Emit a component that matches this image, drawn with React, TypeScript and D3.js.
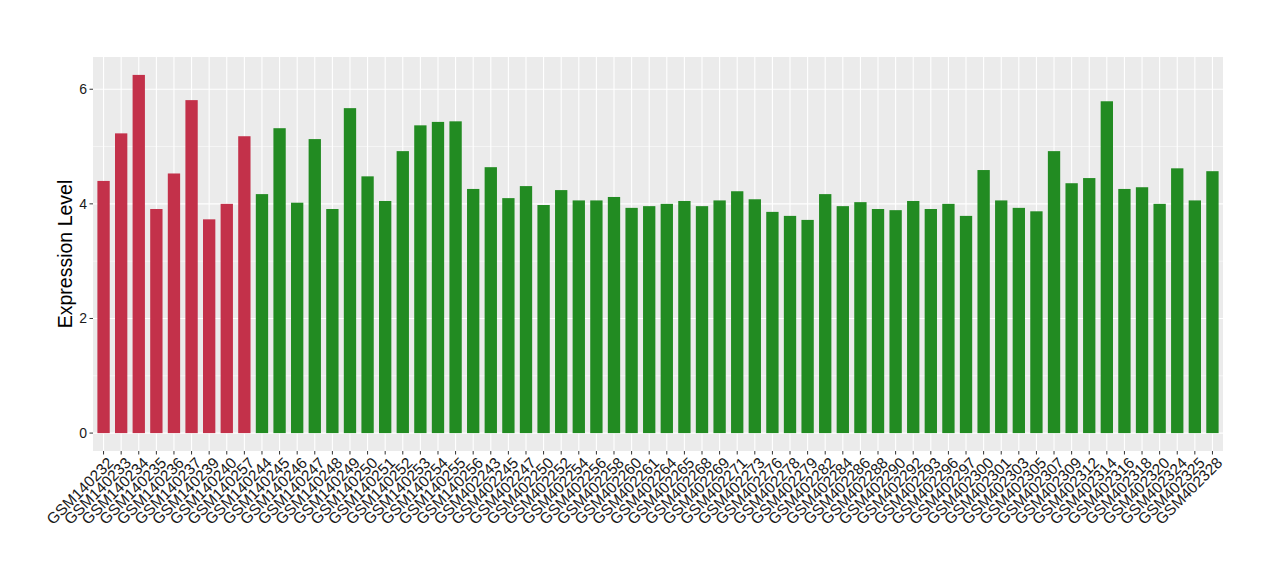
import React, { useEffect, useRef } from "react";
import * as d3 from "d3";

// sample ids, in plotting order
const samples = [
  "GSM140232", "GSM140233", "GSM140234", "GSM140235", "GSM140236", "GSM140237",
  "GSM140239", "GSM140240", "GSM140257", "GSM140244", "GSM140245", "GSM140246",
  "GSM140247", "GSM140248", "GSM140249", "GSM140250", "GSM140251", "GSM140252",
  "GSM140253", "GSM140254", "GSM140255", "GSM140256", "GSM402243", "GSM402245",
  "GSM402247", "GSM402250", "GSM402252", "GSM402254", "GSM402256", "GSM402258",
  "GSM402260", "GSM402261", "GSM402264", "GSM402265", "GSM402268", "GSM402269",
  "GSM402271", "GSM402273", "GSM402276", "GSM402278", "GSM402279", "GSM402282",
  "GSM402284", "GSM402286", "GSM402288", "GSM402290", "GSM402292", "GSM402293",
  "GSM402296", "GSM402297", "GSM402300", "GSM402301", "GSM402303", "GSM402305",
  "GSM402307", "GSM402309", "GSM402312", "GSM402314", "GSM402316", "GSM402318",
  "GSM402320", "GSM402324", "GSM402325", "GSM402328",
];

const expression = [
  4.40, 5.23, 6.25, 3.91, 4.53, 5.81, 3.73, 4.00, 5.18, 4.17, 5.32, 4.02,
  5.13, 3.91, 5.67, 4.48, 4.05, 4.92, 5.37, 5.43, 5.44, 4.26, 4.64, 4.10,
  4.31, 3.98, 4.24, 4.06, 4.06, 4.12, 3.93, 3.96, 4.00, 4.05, 3.96, 4.06,
  4.22, 4.08, 3.86, 3.79, 3.72, 4.17, 3.96, 4.03, 3.91, 3.89, 4.05, 3.91,
  4.00, 3.79, 4.59, 4.06, 3.93, 3.87, 4.92, 4.36, 4.45, 5.79, 4.26, 4.29,
  4.00, 4.62, 4.06, 4.57,
];

// first 9 samples are one group (red), rest the other (green)
const groupSize = 9;
const yTicks = [0, 2, 4, 6];
const yMinor = [1, 3, 5];

const WIDTH = 1280;
const HEIGHT = 580;
const FONT = "'Liberation Sans', Arial, Helvetica, sans-serif";

const App: React.FC = () => {
  const svgRef = useRef<SVGSVGElement | null>(null);

  useEffect(() => {
    if (!svgRef.current) return;
    const root = d3.select(svgRef.current);
    root.selectAll("*").remove();

    const margin = { top: 57, right: 57, bottom: 129, left: 93 };
    const plotW = WIDTH - margin.left - margin.right;
    const plotH = HEIGHT - margin.top - margin.bottom;

    // ggplot-style discrete expansion (0.6 of a step on each side)
    const xScale = d3
      .scaleBand<string>()
      .domain(samples)
      .range([0, plotW])
      .paddingInner(0.3)
      .paddingOuter(0.25);
    const xc = (s: string) => xScale(s)! + xScale.bandwidth() / 2;

    const maxV = d3.max(expression)!;
    const pad = maxV * 0.05;
    const yScale = d3.scaleLinear().domain([-pad, maxV + pad]).range([plotH, 0]);

    const g = root
      .append("g")
      .attr("transform", `translate(${margin.left},${margin.top})`);

    g.append("rect")
      .attr("width", plotW)
      .attr("height", plotH)
      .attr("fill", "#EBEBEB");

    // minor grid
    g.selectAll(".minor")
      .data(yMinor)
      .enter()
      .append("line")
      .attr("x1", 0)
      .attr("x2", plotW)
      .attr("y1", (d) => yScale(d))
      .attr("y2", (d) => yScale(d))
      .attr("stroke", "#FFFFFF")
      .attr("stroke-width", 0.55);

    // major grid
    g.selectAll(".major")
      .data(yTicks)
      .enter()
      .append("line")
      .attr("x1", 0)
      .attr("x2", plotW)
      .attr("y1", (d) => yScale(d))
      .attr("y2", (d) => yScale(d))
      .attr("stroke", "#FFFFFF")
      .attr("stroke-width", 1.1);

    g.selectAll(".vgrid")
      .data(samples)
      .enter()
      .append("line")
      .attr("x1", (d) => xc(d))
      .attr("x2", (d) => xc(d))
      .attr("y1", 0)
      .attr("y2", plotH)
      .attr("stroke", "#FFFFFF")
      .attr("stroke-width", 1.1);

    // bars
    g.selectAll(".bar")
      .data(samples)
      .enter()
      .append("rect")
      .attr("x", (d) => xScale(d)!)
      .attr("width", xScale.bandwidth())
      .attr("y", (_, i) => yScale(expression[i]))
      .attr("height", (_, i) => yScale(0) - yScale(expression[i]))
      .attr("fill", (_, i) => (i < groupSize ? "#C3314A" : "#228B22"));

    // y axis ticks + labels
    const yAxis = g.append("g");
    yTicks.forEach((t) => {
      yAxis
        .append("line")
        .attr("x1", -3.5)
        .attr("x2", 0)
        .attr("y1", yScale(t))
        .attr("y2", yScale(t))
        .attr("stroke", "#333333")
        .attr("stroke-width", 1);
      yAxis
        .append("text")
        .attr("x", -6)
        .attr("y", yScale(t))
        .attr("dy", "0.35em")
        .attr("text-anchor", "end")
        .attr("font-family", FONT)
        .attr("font-size", 14)
        .attr("fill", "#1A1A1A")
        .text(t);
    });

    // x axis ticks + rotated labels
    const xAxis = g.append("g").attr("transform", `translate(0,${plotH})`);
    samples.forEach((s) => {
      xAxis
        .append("line")
        .attr("x1", xc(s))
        .attr("x2", xc(s))
        .attr("y1", 0)
        .attr("y2", 3.5)
        .attr("stroke", "#333333")
        .attr("stroke-width", 1);
      xAxis
        .append("text")
        .attr("transform", `translate(${xc(s) + 3},${5}) rotate(-45)`)
        .attr("dy", "0.72em")
        .attr("text-anchor", "end")
        .attr("font-family", FONT)
        .attr("font-size", 15.5)
        .attr("fill", "#1A1A1A")
        .text(s);
    });

    // y title
    root
      .append("text")
      .attr("transform", `translate(72,${margin.top + plotH / 2}) rotate(-90)`)
      .attr("text-anchor", "middle")
      .attr("font-family", FONT)
      .attr("font-size", 19.5)
      .attr("fill", "#000000")
      .text("Expression Level");
  }, []);

  return (
    <div style={{ width: WIDTH, height: HEIGHT, margin: -8, background: "#FFFFFF" }}>
      <svg ref={svgRef} width={WIDTH} height={HEIGHT} style={{ display: "block" }}></svg>
    </div>
  );
};

export default App;
